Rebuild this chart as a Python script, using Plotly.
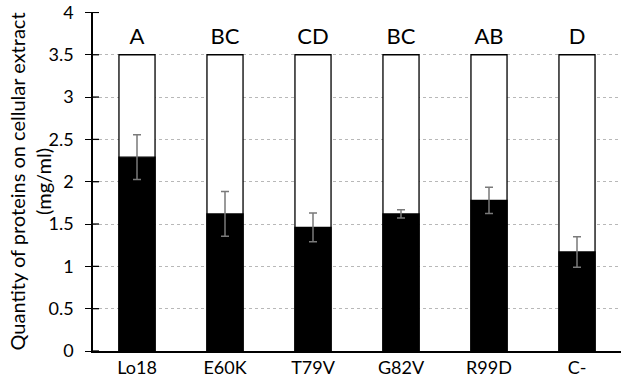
import plotly.graph_objects as go

categories = ["Lo18", "E60K", "T79V", "G82V", "R99D", "C-"]
values = [2.29, 1.62, 1.46, 1.62, 1.78, 1.17]
errors = [0.265, 0.265, 0.17, 0.05, 0.155, 0.18]
letters = ["A", "BC", "CD", "BC", "AB", "D"]
total = [3.5] * len(categories)
ytick_vals = [0, 0.5, 1, 1.5, 2, 2.5, 3, 3.5, 4]
ytick_text = ["0", "0.5", "1", "1.5", "2", "2.5", "3", "3.5", "4"]
letter_y = 3.69

FONT = "Lato"
YRANGE = [0, 4.005]

fig = go.Figure()
fig.add_trace(go.Bar(
    x=categories, y=total,
    marker=dict(color="white", line=dict(color="black", width=1.3)),
    width=0.41, showlegend=False, hoverinfo="skip",
))
fig.add_trace(go.Bar(
    x=categories, y=values,
    marker=dict(color="black", line=dict(color="black", width=1.3)),
    error_y=dict(type="data", array=errors, color="#7a7a7a", thickness=1.5, width=4),
    width=0.41, showlegend=False,
))
fig.add_trace(go.Scatter(
    x=categories, y=[letter_y] * len(categories), mode="text", text=letters,
    textfont=dict(family=FONT, size=22, color="black"), showlegend=False, hoverinfo="skip",
))

# inner half of the cross-style tick marks
tick_px = 6 / 528
shapes = [dict(type="line", xref="paper", yref="y", x0=0, x1=tick_px, y0=v, y1=v,
               line=dict(color="black", width=1.3), layer="above")
          for v in ytick_vals]

fig.update_layout(
    barmode="overlay",
    width=627, height=384,
    margin=dict(l=93, r=6, t=12, b=33, autoexpand=False),
    plot_bgcolor="white", paper_bgcolor="white",
    font=dict(family=FONT, color="black"),
    shapes=shapes,
    annotations=[dict(
        text="Quantity of proteins on cellular extract<br>(mg/ml)",
        xref="paper", yref="paper", x=0, y=0.5, xshift=-64, xanchor="center",
        yanchor="middle", textangle=-90, showarrow=False,
        font=dict(size=20, family=FONT, color="black"),
    )],
)
fig.layout.yaxis.update(
    range=YRANGE, tickvals=ytick_vals, ticktext=ytick_text, automargin=False,
    showgrid=True, gridcolor="#b8b8b8", gridwidth=1, griddash="dot",
    showline=True, linecolor="black", linewidth=1.5, ticks="outside", ticklen=6,
    tickwidth=1.3, tickcolor="black", tickfont=dict(size=18, family=FONT), zeroline=False,
    ticklabelstandoff=8, ticklabeloverflow="allow",
)
fig.update_xaxes(
    showline=True, linecolor="black", linewidth=1.5, ticks="", automargin=False,
    tickfont=dict(size=18, family=FONT),
)
fig.write_html("out.html", config={"displayModeBar": False},
               post_script="document.body.style.margin='0';")
